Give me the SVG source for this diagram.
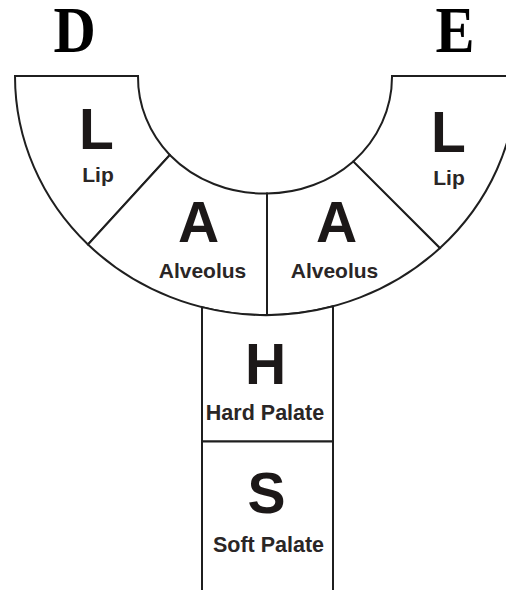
<svg xmlns="http://www.w3.org/2000/svg" width="506" height="590" viewBox="0 0 506 590">
  <style>
    .zone { fill: #ffffff; stroke: #1f1f1f; stroke-width: 2; stroke-linejoin: miter; }
    .big { font-family: "Liberation Sans", Arial, sans-serif; font-weight: bold; font-size: 57px; fill: #1c1818; text-anchor: middle; }
    .lbl { font-family: "Liberation Sans", Arial, sans-serif; font-weight: bold; font-size: 21px; fill: #2a2626; text-anchor: middle; }
    .pal { font-size: 21.5px; }
    .head { font-family: "Liberation Serif", "Times New Roman", serif; font-weight: bold; font-size: 65px; fill: #000000; text-anchor: middle; }
  </style>

  <rect width="506" height="590" fill="#ffffff"/>

  <!-- headings -->
  <text class="head" transform="translate(74.5,52) scale(0.9,1)">D</text>
  <text class="head" transform="translate(455,52) scale(0.9,1)">E</text>

  <!-- outer ellipse: centre (266,76) rx 251 ry 239; inner ellipse: centre (265,76) rx 127 ry 117.5 -->
  <g id="lip-left">
    <path class="zone" d="M15,76 L138,76 A127,117.5 0 0 0 169.8,155 L88,244.5 A251,239 0 0 1 15,76 Z"/>
    <text class="big" x="96.5" y="149">L</text>
    <text class="lbl" x="98" y="182">Lip</text>
  </g>

  <g id="alveolus-left">
    <path class="zone" d="M169.8,155 A127,117.5 0 0 0 267,193.5 L267,315 A251,239 0 0 1 88,244.5 Z"/>
    <text class="big" x="198.5" y="242">A</text>
    <text class="lbl" x="202.5" y="278">Alveolus</text>
  </g>

  <g id="alveolus-right">
    <path class="zone" d="M267,193.5 A127,117.5 0 0 0 353.3,161.4 L440,248 A251,239 0 0 1 267,315 Z"/>
    <text class="big" x="336.5" y="242">A</text>
    <text class="lbl" x="334.5" y="278">Alveolus</text>
  </g>

  <g id="lip-right">
    <path class="zone" d="M353.3,161.4 A127,117.5 0 0 0 392,76 L517,76 A251,239 0 0 1 440,248 Z"/>
    <text class="big" x="448.5" y="152">L</text>
    <text class="lbl" x="449" y="185">Lip</text>
  </g>

  <g id="hard-palate">
    <path class="zone" d="M202,307.1 L202,441.5 L333,441.5 L333,306.3 A251,239 0 0 1 202,307.1 Z"/>
    <text class="big" x="265.5" y="384">H</text>
    <text class="lbl pal" x="265" y="420">Hard Palate</text>
  </g>

  <g id="soft-palate">
    <path class="zone" d="M202,592 L202,441.5 L333,441.5 L333,592"/>
    <text class="big" x="266.5" y="513">S</text>
    <text class="lbl pal" x="268.5" y="552">Soft Palate</text>
  </g>
</svg>
